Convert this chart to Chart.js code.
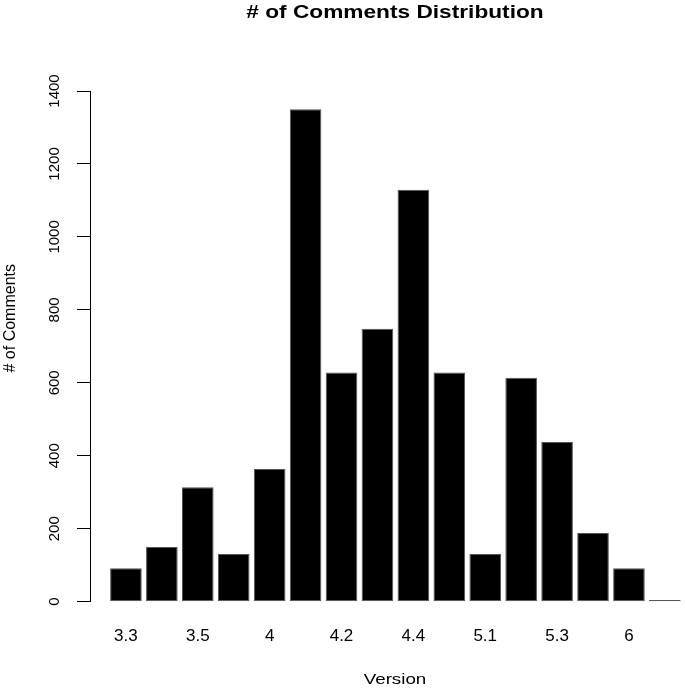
<!DOCTYPE html>
<html>
<head>
<meta charset="utf-8">
<script src="https://cdn.jsdelivr.net/npm/chart.js@4.4.1/dist/chart.umd.min.js"></script>
<style>
  html, body { margin: 0; padding: 0; background: #fff; }
  #wrap { width: 685px; height: 688px; }
</style>
</head>
<body>
<div id="wrap"><canvas id="grafbarras" width="685" height="688"></canvas></div>
<script>
// versions on the x axis (R only prints every other one)
var versiones = ["3.3", "3.4", "3.5", "3.6", "4", "4.1", "4.2", "4.3", "4.4", "5", "5.1", "5.2", "5.3", "5.4", "6", "6.1"];
var comentarios = [92, 150, 314, 131, 364, 1350, 628, 748, 1129, 628, 131, 614, 438, 188, 92, 5];
var ticksY = [0, 200, 400, 600, 800, 1000, 1200, 1400];

var titulo = "# of Comments Distribution";
var tituloX = "Version";
var tituloY = "# of Comments";

var fuente = "'Liberation Sans', Arial, sans-serif";

var puntos = [];
for (var i in comentarios) {
    puntos.push({ x: Number(i) + 1, y: comentarios[i] });
}

// titles placed like base R graphics does it (text is a bit wide in the original)
var titulosR = {
    id: "titulosR",
    afterDraw: function (chart) {
        var ctx = chart.ctx;
        var area = chart.chartArea;
        ctx.save();
        ctx.fillStyle = "#000";
        ctx.textAlign = "center";
        ctx.textBaseline = "middle";

        ctx.save();
        ctx.translate(395, 13);
        ctx.scale(1.26, 1);
        ctx.font = "bold 18px " + fuente;
        ctx.fillText(titulo, 0, 0);
        ctx.restore();

        ctx.save();
        ctx.translate(395, 680);
        ctx.scale(1.25, 1);
        ctx.font = "15px " + fuente;
        ctx.fillText(tituloX, 0, 0);
        ctx.restore();

        ctx.translate(11, area.top + (area.bottom - area.top) * 0.445);
        ctx.rotate(-Math.PI / 2);
        ctx.font = "16px " + fuente;
        ctx.fillText(tituloY, 0, 0);
        ctx.restore();
    }
};

var canvas = document.getElementById("grafbarras");
var barChart = new Chart(canvas, {
    type: "bar",
    data: {
        datasets: [
            {
                data: puntos,
                backgroundColor: "#000",
                borderColor: "#555",
                borderWidth: 1,
                borderSkipped: false,
                categoryPercentage: 1,
                barPercentage: 0.88,
            },
        ],
    },
    options: {
        responsive: false,
        animation: false,
        devicePixelRatio: 1,
        layout: { padding: { top: 91, right: 0, bottom: 0, left: 0 } },
        plugins: {
            legend: { display: false },
            tooltip: { enabled: false },
            title: { display: false },
        },
        scales: {
            x: {
                type: "linear",
                offset: false,
                min: 0,
                max: 16.56,
                grid: { display: false, drawTicks: false },
                border: { display: false },
                afterFit: function (scale) {
                    scale.height = 86.3;
                    scale.paddingLeft = 0;
                    scale.paddingRight = 0;
                },
                ticks: {
                    stepSize: 1,
                    autoSkip: false,
                    maxRotation: 0,
                    padding: 24,
                    color: "#000",
                    font: { family: fuente, size: 17 },
                    callback: function (value) {
                        if (Number.isInteger(value) && value >= 1 && (value - 1) % 2 === 0) {
                            return versiones[value - 1];
                        }
                        return "";
                    },
                },
            },
            y: {
                min: 0,
                max: 1400,
                afterFit: function (scale) { scale.width = 90; },
                afterBuildTicks: function (scale) {
                    scale.ticks = ticksY.map(function (v) { return { value: v }; });
                },
                grid: {
                    display: true,
                    drawOnChartArea: false,
                    drawTicks: true,
                    tickLength: 13,
                    color: "#000",
                    lineWidth: 1,
                },
                border: { display: true, color: "#000", width: 1 },
                ticks: {
                    minRotation: 90,
                    maxRotation: 90,
                    crossAlign: "center",
                    padding: 5,
                    color: "#000",
                    font: { family: fuente, size: 15 },
                    callback: function (value) { return String(value); },
                },
            },
        },
    },
    plugins: [titulosR],
});
</script>
</body>
</html>
